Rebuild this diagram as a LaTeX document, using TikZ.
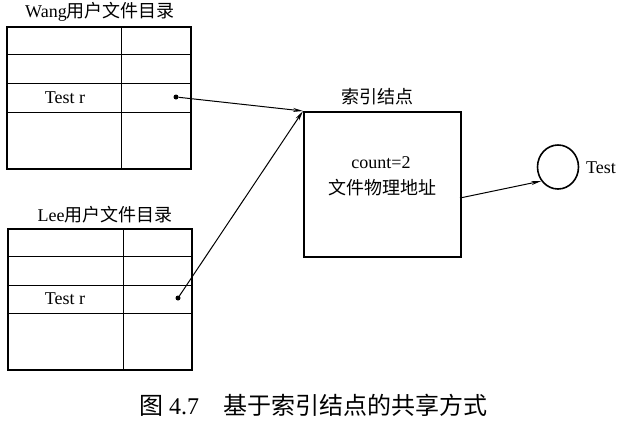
\documentclass[tikz,border=0pt]{standalone}
\usepackage{fontspec}
\setmainfont{Liberation Serif}
\newfontfamily\cjk{Noto Sans CJK SC}
\usetikzlibrary{arrows.meta,shapes.geometric}
\begin{document}
\begin{tikzpicture}[x=1pt,y=-1pt,
  frame/.style={draw,line width=1.6pt},
  grid/.style={line width=1pt},
  lbl/.style={font=\fontsize{18}{20}\selectfont,inner sep=0pt},
  dotnode/.style={circle,fill,inner sep=0pt,minimum size=5pt},
  conn/.style={line width=1pt,-{Stealth[length=10pt,width=4pt]}}]
\useasboundingbox (0,0) rectangle (618,426);
% Wang table
\node[frame,minimum width=184pt,minimum height=142pt,anchor=north west,inner sep=0pt] (wang) at (6,26) {};
\draw[grid] (6,54) -- (190,54) (6,83) -- (190,83) (6,112) -- (190,112) (121,26) -- (121,168);
\node[lbl] (wanglbl) at (100,12) {Wang{\cjk 用户文件目录}};
\node[lbl] (wangtest) at (65,98) {Test r};
\node[dotnode] (wdot) at (176,97) {};
% Lee table
\node[frame,minimum width=184pt,minimum height=141pt,anchor=north west,inner sep=0pt] (lee) at (7,228) {};
\draw[grid] (7,256) -- (191,256) (7,285) -- (191,285) (7,313) -- (191,313) (123,228) -- (123,369);
\node[lbl] (leelbl) at (105,215) {Lee{\cjk 用户文件目录}};
\node[lbl] (leetest) at (65,299) {Test r};
\node[dotnode] (ldot) at (178,298) {};
% index node
\node[frame,minimum width=157pt,minimum height=145pt,anchor=north west,inner sep=0pt] (idx) at (303,111) {};
\node[lbl] (idxlbl) at (377,97) {\cjk 索引结点};
\node[lbl] (cnt) at (381,163) {count=2};
\node[lbl] (addr) at (382,188) {\cjk 文件物理地址};
% file
\node[draw,line width=1.6pt,ellipse,minimum width=41pt,minimum height=44pt,inner sep=0pt] (file) at (558,167) {};
\node[lbl,anchor=west] (filelbl) at (586,168) {Test};
% connectors
\coordinate (corner) at (idx.north west);
\coordinate (out) at (460,198);
\draw[conn] (wdot) -- (corner);
\draw[conn] (ldot) -- (corner);
\draw[conn] (out) -- (file.220);
% caption
\node[font=\fontsize{24}{28}\selectfont,inner sep=0pt] (cap) at (313,405) {{\cjk 图} 4.7\hspace{1em}{\cjk 基于索引结点的共享方式}};
\end{tikzpicture}
\end{document}
